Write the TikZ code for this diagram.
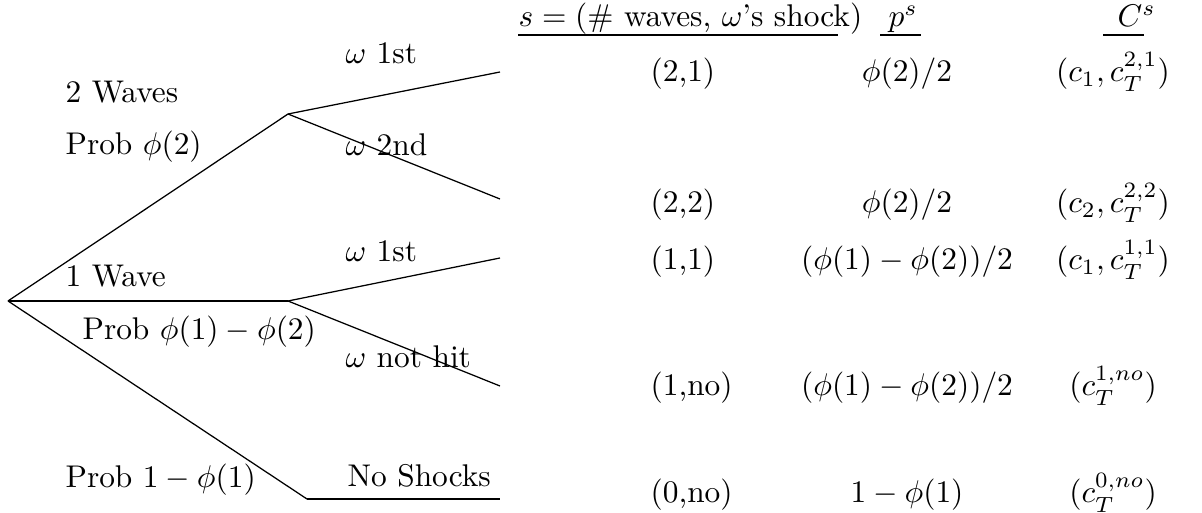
\documentclass[tikz,border=0pt]{standalone}
\begin{document}
\begin{tikzpicture}[x=0.3186pt,y=-0.3186pt,
  lbl/.style={inner sep=0pt,anchor=base west,font=\fontsize{10}{12}\selectfont},
  cval/.style={inner sep=0pt,anchor=base,font=\fontsize{10}{12}\selectfont},
  branch/.style={line width=0.4pt},
  flat/.style={line width=0.65pt},
  uline/.style={line width=0.95pt}]
\useasboundingbox (0,0) rectangle (1202,513);
% tree points
\coordinate (root) at (8,301);
\coordinate (up) at (288,114);
\coordinate (mid) at (288,301);
\coordinate (l1) at (500,72);
\coordinate (l2) at (500,199);
\coordinate (l3) at (500,258);
\coordinate (l4) at (500,386);
\coordinate (bend) at (307,499);
\coordinate (l5) at (500,499);
\draw[branch] (root) -- (up);
\draw[flat] (root) -- (mid);
\draw[branch] (root) -- (bend);
\draw[flat] (bend) -- (l5);
\draw[branch] (up) -- (l1);
\draw[branch] (up) -- (l2);
\draw[branch] (mid) -- (l3);
\draw[branch] (mid) -- (l4);
% branch labels
\node[lbl] (t2w) at (65,103) {2 Waves};
\node[lbl] (p2) at (65,155) {Prob $\phi(2)$};
\node[lbl] (w1a) at (345,64) {$\omega$ 1st};
\node[lbl] (w2) at (345,156) {$\omega$ 2nd};
\node[lbl] (w1b) at (345,262) {$\omega$ 1st};
\node[lbl] (t1w) at (65,287) {1 Wave};
\node[lbl] (p1) at (82,340) {Prob $\phi(1)-\phi(2)$};
\node[lbl] (wn) at (345,368) {$\omega$ not hit};
\node[lbl] (p0) at (65,488) {Prob $1-\phi(1)$};
\node[lbl] (ns) at (347,487) {No Shocks};
% header
\node[lbl] (hs) at (518,27) {$s=(\#$ waves, $\omega$'s shock$)$};
\node[lbl] (hp) at (888,27) {$p^s$};
\node[lbl] (hc) at (1117,27) {$C^s$};
\coordinate (us1) at (518,35); \coordinate (us2) at (838,35);
\coordinate (up1) at (880,35); \coordinate (up2) at (921,35);
\coordinate (uc1) at (1103,35); \coordinate (uc2) at (1144,35);
\draw[uline] (us1) -- (us2);
\draw[uline] (up1) -- (up2);
\draw[uline] (uc1) -- (uc2);
% table rows
\node[lbl] (s1) at (650,82) {(2,1)};
\node[cval] (q1) at (907,82) {$\phi(2)/2$};
\node[cval] (c1) at (1113,82) {$(c_1,c_T^{2,1})$};
\node[lbl] (s2) at (650,213) {(2,2)};
\node[cval] (q2) at (907,213) {$\phi(2)/2$};
\node[cval] (c2) at (1113,213) {$(c_2,c_T^{2,2})$};
\node[lbl] (s3) at (650,270) {(1,1)};
\node[cval] (q3) at (907,270) {$(\phi(1)-\phi(2))/2$};
\node[cval] (c3) at (1113,270) {$(c_1,c_T^{1,1})$};
\node[lbl] (s4) at (650,396) {(1,no)};
\node[cval] (q4) at (907,396) {$(\phi(1)-\phi(2))/2$};
\node[cval] (c4) at (1113,396) {$(c_T^{1,no})$};
\node[lbl] (s5) at (650,503) {(0,no)};
\node[cval] (q5) at (907,503) {$1-\phi(1)$};
\node[cval] (c5) at (1113,503) {$(c_T^{0,no})$};
\end{tikzpicture}
\end{document}
